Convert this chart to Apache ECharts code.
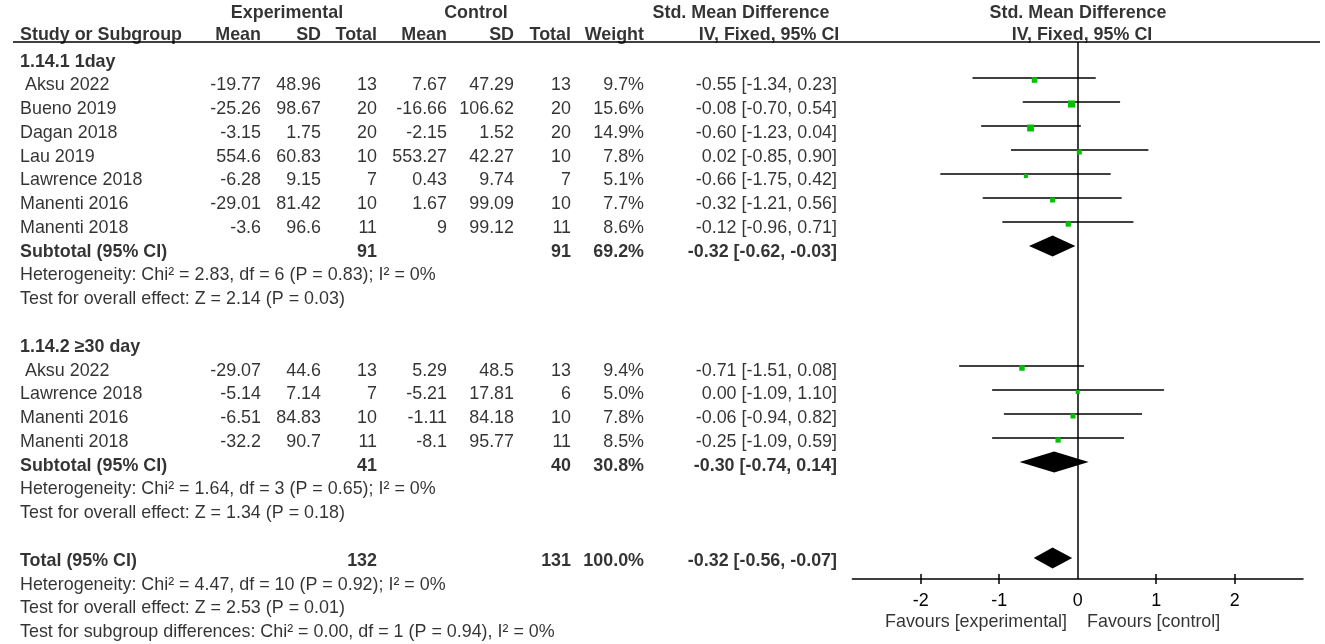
<!DOCTYPE html>
<html>
<head>
<meta charset="utf-8">
<script src="https://cdn.jsdelivr.net/npm/echarts@6/dist/echarts.min.js"></script>
<style>
html,body{margin:0;padding:0;background:#fff;}
#chart{width:1325px;height:644px;}
</style>
</head>
<body>
<div id="chart"></div>
<script>
// ---------------- DATA ----------------
const headerTop = ['Experimental', 'Control', 'Std. Mean Difference', 'Std. Mean Difference'];
const headerCols = ['Study or Subgroup', 'Mean', 'SD', 'Total', 'Mean', 'SD', 'Total', 'Weight', 'IV, Fixed, 95% CI', 'IV, Fixed, 95% CI'];
const groupLabels = ['1.14.1 1day', '1.14.2 \u226530 day'];

const studies1 = [' Aksu 2022', 'Bueno 2019', 'Dagan 2018', 'Lau 2019', 'Lawrence 2018', 'Manenti 2016', 'Manenti 2018'];
const expMean1 = [-19.77, -25.26, -3.15, 554.6, -6.28, -29.01, -3.6];
const expSD1   = [48.96, 98.67, 1.75, 60.83, 9.15, 81.42, 96.6];
const expN1    = [13, 20, 20, 10, 7, 10, 11];
const ctlMean1 = [7.67, -16.66, -2.15, 553.27, 0.43, 1.67, 9];
const ctlSD1   = [47.29, 106.62, 1.52, 42.27, 9.74, 99.09, 99.12];
const ctlN1    = [13, 20, 20, 10, 7, 10, 11];
const weight1  = [9.7, 15.6, 14.9, 7.8, 5.1, 7.7, 8.6];
const smd1     = [-0.55, -0.08, -0.60, 0.02, -0.66, -0.32, -0.12];
const lo1      = [-1.34, -0.70, -1.23, -0.85, -1.75, -1.21, -0.96];
const hi1      = [0.23, 0.54, 0.04, 0.90, 0.42, 0.56, 0.71];

const studies2 = [' Aksu 2022', 'Lawrence 2018', 'Manenti 2016', 'Manenti 2018'];
const expMean2 = [-29.07, -5.14, -6.51, -32.2];
const expSD2   = [44.6, 7.14, 84.83, 90.7];
const expN2    = [13, 7, 10, 11];
const ctlMean2 = [5.29, -5.21, -1.11, -8.1];
const ctlSD2   = [48.5, 17.81, 84.18, 95.77];
const ctlN2    = [13, 6, 10, 11];
const weight2  = [9.4, 5.0, 7.8, 8.5];
const smd2     = [-0.71, 0.00, -0.06, -0.25];
const lo2      = [-1.51, -1.09, -0.94, -1.09];
const hi2      = [0.08, 1.10, 0.82, 0.59];

const subtotalExpN   = [91, 41];
const subtotalCtlN   = [91, 40];
const subtotalWeight = [69.2, 30.8];
const subtotalSMD    = [-0.32, -0.30];
const subtotalLo     = [-0.62, -0.74];
const subtotalHi     = [-0.03, 0.14];
const hetTexts    = ['Heterogeneity: Chi\u00b2 = 2.83, df = 6 (P = 0.83); I\u00b2 = 0%', 'Heterogeneity: Chi\u00b2 = 1.64, df = 3 (P = 0.65); I\u00b2 = 0%'];
const effectTexts = ['Test for overall effect: Z = 2.14 (P = 0.03)', 'Test for overall effect: Z = 1.34 (P = 0.18)'];

const totalLabel = 'Total (95% CI)';
const subtotalLabel = 'Subtotal (95% CI)';
const totalExpN = 132, totalCtlN = 131, totalWeight = 100.0, totalSMD = -0.32, totalLo = -0.56, totalHi = -0.07;
const totalNotes = ['Heterogeneity: Chi\u00b2 = 4.47, df = 10 (P = 0.92); I\u00b2 = 0%', 'Test for overall effect: Z = 2.53 (P = 0.01)', 'Test for subgroup differences: Chi\u00b2 = 0.00, df = 1 (P = 0.94), I\u00b2 = 0%'];

const axisTickValues = [-2, -1, 0, 1, 2];
const favourLabels = ['Favours [experimental]', 'Favours [control]'];

// ---------------- LAYOUT / STYLE ----------------
const FONT = '"Liberation Sans", Arial, Helvetica, sans-serif';
const FS = 17.9;
const COL = {name: 20, eMean: 261, eSD: 321, eN: 377, cMean: 447, cSD: 514, cN: 571, w: 644, ci: 837};
const headerTopPos = [[287, 'center'], [476, 'center'], [741, 'center'], [1078, 'center']];
const headerColPos = [[20, 'left'], [261, 'right'], [321, 'right'], [377, 'right'], [447, 'right'], [514, 'right'], [571, 'right'], [644, 'right'], [769, 'center'], [1082, 'center']];
const GREEN = '#00c000';

const fmt2 = v => v.toFixed(2);
const ciText = (e, l, h) => fmt2(e) + ' [' + fmt2(l) + ', ' + fmt2(h) + ']';
const pct = v => v.toFixed(1) + '%';

const cells = [];
function cell(x, r, t, align, bold) {
  cells.push({value: [x, r], t: t, label: {align: align, fontWeight: bold ? 'bold' : 'normal'}});
}

// headers
headerTop.forEach((t, i) => cell(headerTopPos[i][0], -2.05, t, headerTopPos[i][1], true));
headerCols.forEach((t, i) => cell(headerColPos[i][0], -1.1, t, headerColPos[i][1], true));

const ciData = [];      // [lo, hi, row, est]
const squareData = [];  // [est, row, weight]
const diamondData = []; // [lo, hi, row, est]

const groups = [
  {studies: studies1, eM: expMean1, eS: expSD1, eN: expN1, cM: ctlMean1, cS: ctlSD1, cN: ctlN1, w: weight1, smd: smd1, lo: lo1, hi: hi1},
  {studies: studies2, eM: expMean2, eS: expSD2, eN: expN2, cM: ctlMean2, cS: ctlSD2, cN: ctlN2, w: weight2, smd: smd2, lo: lo2, hi: hi2}
];

let row = 0;
groups.forEach((g, gi) => {
  cell(COL.name, row, groupLabels[gi], 'left', true);
  row++;
  g.studies.forEach((s, i) => {
    cell(COL.name, row, s, 'left', false);
    cell(COL.eMean, row, String(g.eM[i]), 'right', false);
    cell(COL.eSD, row, String(g.eS[i]), 'right', false);
    cell(COL.eN, row, String(g.eN[i]), 'right', false);
    cell(COL.cMean, row, String(g.cM[i]), 'right', false);
    cell(COL.cSD, row, String(g.cS[i]), 'right', false);
    cell(COL.cN, row, String(g.cN[i]), 'right', false);
    cell(COL.w, row, pct(g.w[i]), 'right', false);
    cell(COL.ci, row, ciText(g.smd[i], g.lo[i], g.hi[i]), 'right', false);
    ciData.push([g.lo[i], g.hi[i], row, g.smd[i]]);
    squareData.push([g.smd[i], row, g.w[i]]);
    row++;
  });
  cell(COL.name, row, subtotalLabel, 'left', true);
  cell(COL.eN, row, String(subtotalExpN[gi]), 'right', true);
  cell(COL.cN, row, String(subtotalCtlN[gi]), 'right', true);
  cell(COL.w, row, pct(subtotalWeight[gi]), 'right', true);
  cell(COL.ci, row, ciText(subtotalSMD[gi], subtotalLo[gi], subtotalHi[gi]), 'right', true);
  diamondData.push([subtotalLo[gi], subtotalHi[gi], row, subtotalSMD[gi]]);
  row++;
  cell(COL.name, row, hetTexts[gi], 'left', false); row++;
  cell(COL.name, row, effectTexts[gi], 'left', false); row++;
  row++; // blank
});
cell(COL.name, row, totalLabel, 'left', true);
cell(COL.eN, row, String(totalExpN), 'right', true);
cell(COL.cN, row, String(totalCtlN), 'right', true);
cell(COL.w, row, pct(totalWeight), 'right', true);
cell(COL.ci, row, ciText(totalSMD, totalLo, totalHi), 'right', true);
diamondData.push([totalLo, totalHi, row, totalSMD]);
row++;
totalNotes.forEach(t => { cell(COL.name, row, t, 'left', false); row++; });

// favours labels under the axis
cell(1067, 23.58, favourLabels[0], 'right', false);
cell(1087, 23.58, favourLabels[1], 'left', false);

// ---------------- CHART ----------------
const chart = echarts.init(document.getElementById('chart'), null, {renderer: 'canvas'});
const X0 = 1077.7, UNIT = 78.5, XR = 2.87;
const plotGrid = {left: X0 - XR * UNIT, width: 2 * XR * UNIT, top: 42, height: 537};

const option = {
  animation: false,
  backgroundColor: '#fff',
  textStyle: {fontFamily: FONT},
  grid: [
    plotGrid,
    {left: 0, width: 1325, top: 2.2, height: 648},
    Object.assign({}, plotGrid)
  ],
  xAxis: [
    {gridIndex: 0, type: 'value', min: -XR, max: XR, position: 'bottom',
      axisLine: {show: true, onZero: false, lineStyle: {color: '#000', width: 1.5}},
      axisTick: {show: true, customValues: [-2, -1, 1, 2], length: 5, lineStyle: {color: '#000', width: 1.5}},
      axisLabel: {show: true, customValues: axisTickValues, color: '#000', fontSize: FS, fontFamily: FONT, margin: 13},
      splitLine: {show: false}},
    {gridIndex: 1, type: 'value', min: 0, max: 1325, show: false},
    {gridIndex: 2, type: 'value', min: -XR, max: XR, position: 'bottom',
      axisLine: {show: false, onZero: false},
      axisTick: {show: true, inside: true, customValues: [-2, -1, 1, 2], length: 5, lineStyle: {color: '#000', width: 1.5}},
      axisLabel: {show: false}, splitLine: {show: false}}
  ],
  yAxis: [
    {gridIndex: 0, type: 'value', min: -0.5, max: 21.875, inverse: true, show: false},
    {gridIndex: 1, type: 'value', min: -2.5, max: 24.5, inverse: true, show: false},
    {gridIndex: 2, type: 'value', min: -0.5, max: 21.875, inverse: true, show: false}
  ],
  graphic: [
    {type: 'line', shape: {x1: 13, y1: 42, x2: 1320, y2: 42}, style: {stroke: '#000', lineWidth: 1.5}, z: 10}
  ],
  series: [
    {
      type: 'custom', name: 'ci', xAxisIndex: 0, yAxisIndex: 0,
      data: ciData, encode: {x: [0, 1, 3], y: 2},
      renderItem: function (params, api) {
        const a = api.coord([api.value(0), api.value(2)]);
        const b = api.coord([api.value(1), api.value(2)]);
        return {type: 'line', shape: {x1: a[0], y1: a[1], x2: b[0], y2: b[1]}, style: {stroke: '#000', lineWidth: 1.6}};
      },
      markLine: {
        silent: true, symbol: ['none', 'none'], label: {show: false},
        lineStyle: {color: '#000', width: 1.5, type: 'solid'},
        data: [{xAxis: 0}]
      },
      z: 2
    },
    {
      type: 'scatter', name: 'est', xAxisIndex: 0, yAxisIndex: 0,
      data: squareData, symbol: 'rect',
      symbolSize: d => 1.8 * Math.sqrt(d[2]),
      symbolOffset: [0, 2],
      itemStyle: {color: GREEN, opacity: 1},
      z: 5
    },
    {
      type: 'custom', name: 'diamond', xAxisIndex: 0, yAxisIndex: 0,
      data: diamondData, encode: {x: [0, 1, 3], y: 2},
      renderItem: function (params, api) {
        const l = api.coord([api.value(0), api.value(2)]);
        const h = api.coord([api.value(1), api.value(2)]);
        const m = api.coord([api.value(3), api.value(2)]);
        const hh = 10.5;
        return {type: 'polygon', shape: {points: [[l[0], l[1]], [m[0], m[1] - hh], [h[0], h[1]], [m[0], m[1] + hh]]}, style: {fill: '#000'}};
      },
      z: 4
    },
    {
      type: 'scatter', name: 'table', xAxisIndex: 1, yAxisIndex: 1,
      data: cells, symbolSize: 0, silent: true,
      label: {
        show: true, position: 'inside', color: '#000', fontSize: FS, fontFamily: FONT,
        verticalAlign: 'middle',
        formatter: p => p.data.t
      },
      z: 6
    }
  ]
};
chart.setOption(option);
</script>
</body>
</html>
